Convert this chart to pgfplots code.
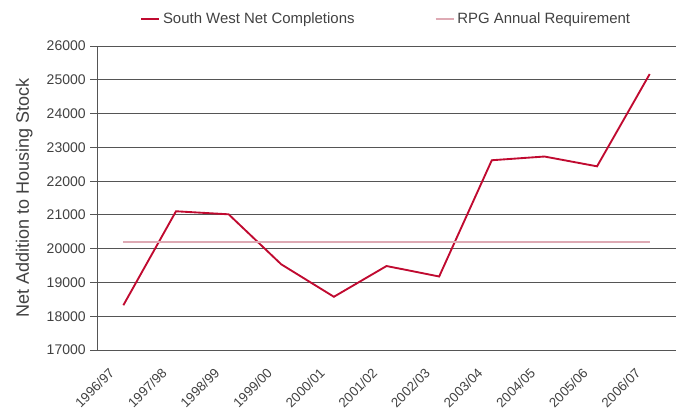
\documentclass[border=0pt]{standalone}
\usepackage{fontspec}
\setmainfont{Liberation Sans}
\usepackage{pgfplots}
\pgfplotsset{compat=1.18}
\definecolor{swline}{RGB}{192,10,48}
\definecolor{rpgline}{RGB}{222,170,180}
\definecolor{gridc}{RGB}{85,85,85}
\definecolor{txt}{RGB}{65,65,65}
\begin{document}
\begin{tikzpicture}
\begin{axis}[
    name=ax,
    scale only axis,
    width=434pt, height=228pt,
    xmin=0, xmax=11,
    ymin=17000, ymax=26000,
    ytick={17000,18000,...,26000},
    axis lines*=left,
    axis line style={gridc, line width=0.75pt},
    ymajorgrids, grid style={gridc, line width=0.75pt},
    xtick={0.5,1.5,...,10.5},
    xticklabels={1996/97,1997/98,1998/99,1999/00,2000/01,2001/02,2002/03,2003/04,2004/05,2005/06,2006/07},
    minor xtick={0,1,...,11},
    tick align=outside,
    major tick length=5pt,
    xtick style={draw=none},
    minor tick style={gridc, line width=0.75pt},
    minor tick length=4pt,
    ytick style={gridc, line width=0.75pt},
    xticklabel style={rotate=45, anchor=north east, inner sep=0pt, font=\fontsize{10}{11}\selectfont, text=txt, xshift=-13.5pt, yshift=2.6pt},
    yticklabel style={font=\fontsize{10.5}{11}\selectfont, text=txt},
    /pgf/number format/assume math mode=true,
    scaled y ticks=false,
    yticklabel={\pgfmathprintnumber[fixed, 1000 sep={}]{\tick}},
    ylabel={Net Addition to Housing Stock},
    ylabel style={at={(axis description cs:-0.126,0.5)}, anchor=center, font=\fontsize{13.5}{14}\selectfont, text=txt},
    legend style={at={(0.5,1)}, anchor=center, yshift=20pt, draw=none, fill=none,
        font=\fontsize{11.2}{12}\selectfont, /tikz/every even column/.append style={column sep=58pt}},
    legend columns=2,
    legend image code/.code={\draw[#1] (0cm,0cm) -- (0.48cm,0cm);},
    clip=false,
]
\addplot[swline, line width=1.4pt] coordinates {
    (0.5,18330) (1.5,21110) (2.5,21020) (3.5,19540) (4.5,18580) (5.5,19490)
    (6.5,19180) (7.5,22620) (8.5,22730) (9.5,22440) (10.5,25170)};
\addlegendentry{\textcolor{txt}{South West Net Completions}}
\addplot[rpgline, line width=1.4pt] coordinates {(0.5,20200) (10.5,20200)};
\addlegendentry{\textcolor{txt}{RPG Annual Requirement}}
\end{axis}
\pgfresetboundingbox
\path ([xshift=-72.75pt,yshift=-43.5pt]ax.south west) rectangle ([xshift=0.75pt,yshift=34.5pt]ax.north east);
\end{tikzpicture}
\end{document}
